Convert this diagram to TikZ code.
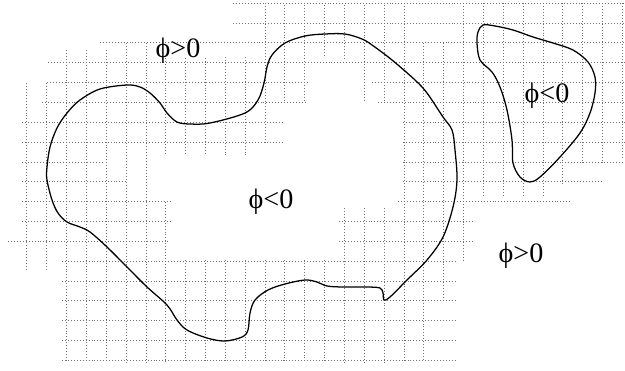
\documentclass[tikz,border=0pt]{standalone}
\usepackage{fontspec}
\setmainfont{Liberation Serif}
\usepackage{tikz}

\tikzset{
  gridline/.style={black!55, line width=0.4pt, dash pattern=on 0.6pt off 1.5pt},
  front/.style={line width=0.9pt},
  phase/.style={font=\fontsize{20}{24}\selectfont, inner sep=0pt, anchor=base},
}

\begin{document}
\begin{tikzpicture}[x=0.025cm, y=-0.025cm]
  \useasboundingbox (0,0) rectangle (625,370);

  % --- banda stretta: righe (j, da x, a x) ---
  \foreach \j/\a/\b in {0/233/625, 1/233/625, 2/100/625, 3/48/625,
      4/47/308, 4/372/625, 5/42/305, 5/378/625, 6/22/283, 6/403/625,
      7/22/283, 7/403/625, 8/22/103, 8/403/623, 9/22/127, 9/403/602,
      10/22/172, 10/398/570, 11/22/172, 11/339/473, 12/8/168, 12/339/473,
      13/62/455, 14/62/455, 15/62/455, 16/62/455, 17/62/455, 18/62/455}
    \draw[gridline] (\a,{3+19.85*\j}) -- (\b,{3+19.85*\j});

  % --- banda stretta: colonne (i, da y, a y) ---
  \foreach \i/\a/\b in {0/83/270, 1/83/270, 2/50/362, 3/50/362, 4/50/362,
      5/43/362, 6/43/362, 7/58/155, 7/202/362, 8/58/155, 8/260/362,
      9/58/155, 9/260/362, 10/57/155, 10/260/362, 11/57/155, 11/260/362,
      12/6/142, 12/260/362, 13/5/100, 13/260/362, 14/5/100, 14/260/362,
      15/5/58, 15/260/362, 16/5/60, 16/208/362, 17/5/100, 17/208/362,
      18/5/100, 18/208/362, 19/3/362, 20/43/360, 21/43/300, 22/3/260,
      23/3/197, 24/3/197, 25/3/197, 26/3/197, 27/3/185, 28/3/163,
      29/3/163, 30/3/157}
    \draw[gridline] ({26.7+19.85*\i},\a) -- ({26.7+19.85*\i},\b);

  % --- interfaccia phi = 0 ---
  \draw[front] plot[smooth cycle, tension=0.55] coordinates {
    (47,180) (47,167) (50,147) (57,128) (67,113) (80,100) (100,89)
    (127,85) (140,87) (150,93) (160,103) (167,113) (177,122) (190,124)
    (210,123) (245,113) (258,100) (264,83) (267,67) (272,55) (285,43)
    (305,36) (325,34) (345,34) (362,39) (372,45) (392,60) (415,80)
    (427,93) (443,117) (452,130) (455,150) (457,180) (453,207) (443,237)
    (427,260) (407,280) (390,297) (384,300) (383,293) (380,288) (367,287)
    (343,287) (327,286) (317,282) (305,280) (285,284) (268,290) (255,300)
    (250,313) (248,330) (242,337) (225,341) (207,338) (187,330) (177,320)
    (167,305) (147,287) (127,267) (107,247) (90,232) (80,227) (67,222)
    (58,213) (52,200)};
  \draw[front] plot[smooth cycle, tension=0.55] coordinates {
    (483,25) (495,26) (513,30) (533,37) (553,43) (573,50) (588,62)
    (595,77) (595,93) (590,113) (580,133) (560,157) (540,177) (530,182)
    (520,177) (513,163) (512,140) (507,110) (500,87) (492,72) (480,60)
    (477,43) (478,32)};

  % --- segno di phi ---
  \node[phase] (fuoriA) at (178,57) {ϕ>0};
  \node[phase] (dentroA) at (271,208) {ϕ<0};
  \node[phase] (dentroB) at (547,102) {ϕ<0};
  \node[phase] (fuoriB) at (521,262) {ϕ>0};
\end{tikzpicture}
\end{document}
